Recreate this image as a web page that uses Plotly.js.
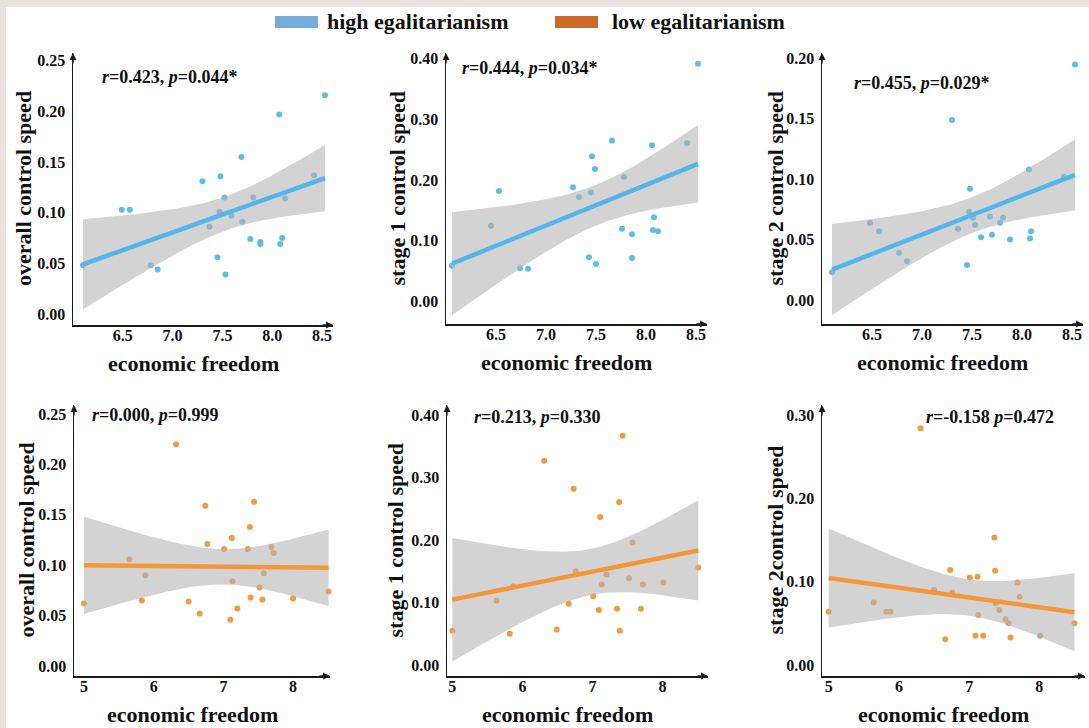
<!DOCTYPE html>
<html><head><meta charset="utf-8">
<script src="https://cdn.plot.ly/plotly-3.0.1.min.js"></script>
<style>html,body{margin:0;padding:0;background:#fff}#chart{width:1089px;height:728px}</style>
</head><body><div id="chart"></div>
<script>
// ---------- data ----------
const groups = ['high egalitarianism', 'low egalitarianism'];
const yTitles = ['overall control speed', 'stage 1 control speed', 'stage 2 control speed',
                 'overall control speed', 'stage 1 control speed', 'stage 2control speed'];
const xTitle = 'economic freedom';

// high egalitarianism
const highOverallX = [6.10,6.49,6.57,6.78,6.85,7.30,7.37,7.45,7.48,7.47,7.52,7.53,7.59,7.69,7.70,7.78,7.81,7.88,7.88,8.07,8.08,8.10,8.13,8.42,8.53];
const highOverallY = [0.048,0.103,0.103,0.048,0.044,0.131,0.086,0.056,0.136,0.101,0.115,0.039,0.097,0.155,0.091,0.074,0.115,0.071,0.069,0.197,0.069,0.075,0.114,0.137,0.216];
const highStage1X = [6.06,6.45,6.53,6.74,6.82,7.27,7.33,7.43,7.45,7.46,7.49,7.50,7.66,7.76,7.78,7.86,7.86,8.06,8.07,8.08,8.12,8.41,8.52];
const highStage1Y = [0.059,0.125,0.182,0.055,0.054,0.188,0.172,0.073,0.180,0.239,0.218,0.062,0.265,0.120,0.205,0.111,0.072,0.257,0.118,0.139,0.116,0.261,0.391];
const highStage2X = [6.10,6.48,6.57,6.77,6.85,7.30,7.36,7.45,7.47,7.48,7.51,7.53,7.59,7.68,7.70,7.78,7.81,7.88,8.07,8.08,8.09,8.42,8.53];
const highStage2Y = [0.023,0.064,0.057,0.039,0.032,0.149,0.059,0.029,0.073,0.092,0.068,0.062,0.052,0.069,0.054,0.064,0.068,0.050,0.108,0.051,0.057,0.102,0.195];

// low egalitarianism
const lowOverallX = [5.00,5.65,5.83,5.88,6.32,6.50,6.66,6.74,6.77,7.01,7.10,7.12,7.13,7.20,7.35,7.38,7.39,7.44,7.52,7.56,7.58,7.69,7.72,8.00,8.51];
const lowOverallY = [0.062,0.106,0.065,0.090,0.220,0.064,0.052,0.159,0.121,0.116,0.046,0.127,0.084,0.057,0.116,0.138,0.068,0.163,0.078,0.066,0.092,0.118,0.112,0.067,0.074];
const lowStage1X = [5.00,5.63,5.82,5.87,6.31,6.49,6.66,6.73,6.76,7.01,7.09,7.11,7.13,7.20,7.35,7.38,7.39,7.43,7.52,7.57,7.69,7.72,8.01,8.51];
const lowStage1Y = [0.055,0.103,0.050,0.126,0.327,0.057,0.098,0.282,0.150,0.110,0.088,0.237,0.129,0.145,0.090,0.261,0.055,0.367,0.139,0.196,0.090,0.129,0.132,0.156];
const lowStage2X = [5.00,5.64,5.82,5.88,6.31,6.50,6.66,6.73,6.76,7.01,7.09,7.12,7.13,7.20,7.36,7.37,7.38,7.43,7.52,7.56,7.59,7.69,7.72,8.01,8.50];
const lowStage2Y = [0.064,0.075,0.064,0.064,0.284,0.090,0.031,0.114,0.087,0.105,0.035,0.106,0.060,0.035,0.153,0.113,0.074,0.066,0.055,0.050,0.033,0.099,0.082,0.035,0.050];

const statR = ['0.423','0.444','0.455','0.000','0.213','-0.158'];
const statP = ['0.044*','0.034*','0.029*','0.999','0.330','0.472'];
const statSep = [', ', ', ', ', ', ', ', ', ', ' '];

const topXTicks = [6.5,7.0,7.5,8.0,8.5];
const bottomXTicks = [5,6,7,8];
const yTicksA = [0,0.05,0.10,0.15,0.20,0.25];
const yTicksB = [0,0.10,0.20,0.30,0.40];
const yTicksC = [0,0.05,0.10,0.15,0.20];
const yTicksD = [0,0.10,0.20,0.30];

// ---------- styling / layout ----------
const W = 1089, H = 728;
const FONT = '"Liberation Serif", "Times New Roman", serif';
const pointColor = ['#5cbde9', '#f29b3e'];
const lineColor = ['#55b5ea', '#f2973a'];
const legendColor = ['#76abda', '#cc6a2a'];

const series = [
  {x: highOverallX, y: highOverallY, g: 0, xt: topXTicks, yt: yTicksA, xf: '.1f'},
  {x: highStage1X, y: highStage1Y, g: 0, xt: topXTicks, yt: yTicksB, xf: '.1f'},
  {x: highStage2X, y: highStage2Y, g: 0, xt: topXTicks, yt: yTicksC, xf: '.1f'},
  {x: lowOverallX, y: lowOverallY, g: 1, xt: bottomXTicks, yt: yTicksA, xf: 'd'},
  {x: lowStage1X, y: lowStage1Y, g: 1, xt: bottomXTicks, yt: yTicksB, xf: 'd'},
  {x: lowStage2X, y: lowStage2Y, g: 1, xt: bottomXTicks, yt: yTicksD, xf: 'd'},
];
// pixel boxes of each panel (left, right, top, bottom) and axis ranges
const geom = [
  {l:73,  r:333,  t:53,  b:325, xr:[6.0,8.61],   yr:[-0.0109,0.2577], stat:[100,77],  ys:-49},
  {l:446, r:707,  t:53,  b:324, xr:[6.0,8.61],   yr:[-0.0366,0.4087], stat:[460,68],  ys:-49},
  {l:822, r:1083, t:53,  b:324, xr:[6.0,8.61],   yr:[-0.0199,0.2045], stat:[852,83],  ys:-47},
  {l:74,  r:330,  t:405, b:676, xr:[4.856,8.53], yr:[-0.0099,0.2589], stat:[90,415],  ys:-48},
  {l:447, r:708,  t:405, b:676, xr:[4.924,8.648],yr:[-0.0176,0.416],  stat:[472,417], ys:-52},
  {l:822, r:1085, t:405, b:676, xr:[4.905,8.65], yr:[-0.0132,0.312],  stat:[924,417], ys:-47},
];

// ---------- regression with 95% CI ----------
function tq975(df){
  const z = 1.959964;
  return z + (z**3+z)/(4*df) + (5*z**5+16*z**3+3*z)/(96*df*df) + (3*z**7+19*z**5+17*z**3-15*z)/(384*df**3);
}
function regress(x, y){
  const n = x.length;
  const mx = x.reduce((a,b)=>a+b,0)/n, my = y.reduce((a,b)=>a+b,0)/n;
  let sxx=0, sxy=0;
  for (let i=0;i<n;i++){ sxx += (x[i]-mx)**2; sxy += (x[i]-mx)*(y[i]-my); }
  const b = sxy/sxx, a = my - b*mx;
  let sse = 0;
  for (let i=0;i<n;i++){ sse += (y[i]-a-b*x[i])**2; }
  const s = Math.sqrt(sse/(n-2)), t = tq975(n-2);
  const x0 = Math.min(...x), x1 = Math.max(...x);
  const gx=[], gy=[], lo=[], hi=[];
  const steps = 80;
  for (let k=0;k<=steps;k++){
    const xv = x0 + (x1-x0)*k/steps;
    const yv = a + b*xv;
    const se = s*Math.sqrt(1/n + (xv-mx)**2/sxx);
    gx.push(xv); gy.push(yv); lo.push(yv - t*se); hi.push(yv + t*se);
  }
  return {gx, gy, lo, hi};
}

const traces = [];
const layout = {
  width: W, height: H,
  margin: {l:0, r:0, t:0, b:0},
  paper_bgcolor: '#e9e2e1',
  plot_bgcolor: 'rgba(0,0,0,0)',
  showlegend: false,
  font: {family: FONT, color: '#111'},
  shapes: [
    {type:'rect', xref:'paper', yref:'paper', x0:6/W, x1:1, y0:0, y1:1-7/H,
     fillcolor:'#ffffff', line:{width:0}, layer:'below'}
  ],
  annotations: []
};

series.forEach((s, i) => {
  const g = geom[i];
  const k = i === 0 ? '' : String(i+1);
  const xa = 'x'+k, ya = 'y'+k;
  const fit = regress(s.x, s.y);
  traces.push({type:'scatter', mode:'markers', x:s.x, y:s.y, xaxis:xa, yaxis:ya,
    marker:{size:6, color:pointColor[s.g]}, cliponaxis:false, hoverinfo:'x+y'});
  traces.push({type:'scatter', mode:'lines', x:fit.gx.concat(fit.gx.slice().reverse()),
    y:fit.hi.concat(fit.lo.slice().reverse()), xaxis:xa, yaxis:ya,
    fill:'toself', fillcolor:'rgba(180,180,180,0.58)', line:{width:0}, hoverinfo:'skip'});
  traces.push({type:'scatter', mode:'lines', x:fit.gx, y:fit.gy, xaxis:xa, yaxis:ya,
    line:{color:lineColor[s.g], width:4.5}, hoverinfo:'skip'});

  const axBase = {showline:true, linecolor:'#1a1a1a', linewidth:1.5, showgrid:false,
    zeroline:false, ticks:'', tickfont:{family:FONT, size:16, color:'#111', weight:'bold'}};
  layout['xaxis'+k] = Object.assign({}, axBase, {
    domain:[g.l/W, g.r/W], range:g.xr, anchor:ya,
    tickmode:'array', tickvals:s.xt, tickformat:s.xf, ticklabelstandoff:-5});
  layout['yaxis'+k] = Object.assign({}, axBase, {
    domain:[1-g.b/H, 1-g.t/H], range:g.yr, anchor:xa,
    tickmode:'array', tickvals:s.yt, tickformat:'.2f', ticklabelstandoff:3});

  const xd = xa+' domain', yd = ya+' domain';
  // axis arrows
  layout.annotations.push({xref:xd, yref:yd, x:1, y:0, ax:-12, ay:0, axref:'pixel', ayref:'pixel',
    showarrow:true, arrowhead:2, arrowsize:1, arrowwidth:1.4, arrowcolor:'#1a1a1a', text:''});
  layout.annotations.push({xref:xd, yref:yd, x:0, y:1, ax:0, ay:12, axref:'pixel', ayref:'pixel',
    showarrow:true, arrowhead:2, arrowsize:1, arrowwidth:1.4, arrowcolor:'#1a1a1a', text:''});
  // axis titles
  layout.annotations.push({xref:xd, yref:yd, x:0.5, y:0, yshift:-38, xshift:-10, showarrow:false,
    text:'<b>'+xTitle+'</b>', font:{family:FONT, size:22, color:'#111'}, xanchor:'center', yanchor:'middle'});
  layout.annotations.push({xref:xd, yref:yd, x:0, y:0.5, xshift:g.ys, showarrow:false, textangle:-90,
    text:'<b>'+yTitles[i]+'</b>', font:{family:FONT, size:22, color:'#111'}, xanchor:'center', yanchor:'middle'});
  // statistics
  layout.annotations.push({xref:'paper', yref:'paper', x:g.stat[0]/W, y:1-g.stat[1]/H, showarrow:false,
    xanchor:'left', yanchor:'middle',
    text:'<b><i>r</i>='+statR[i]+statSep[i]+'<i>p</i>='+statP[i]+'</b>',
    font:{family:FONT, size:18, color:'#111'}});
});

// legend (top)
const legendPos = [[275, 318, 325], [555, 598, 610]];
groups.forEach((name, j) => {
  const p = legendPos[j];
  layout.shapes.push({type:'rect', xref:'paper', yref:'paper', x0:p[0]/W, x1:p[1]/W,
    y0:1-28/H, y1:1-16/H, fillcolor:legendColor[j], line:{width:0}});
  layout.annotations.push({xref:'paper', yref:'paper', x:p[2]/W, y:1-21/H, showarrow:false,
    xanchor:'left', yanchor:'middle', text:'<b>'+name+'</b>',
    font:{family:FONT, size:22, color:'#111'}});
});

Plotly.newPlot('chart', traces, layout, {displayModeBar:false, staticPlot:true});
</script>
</body></html>
